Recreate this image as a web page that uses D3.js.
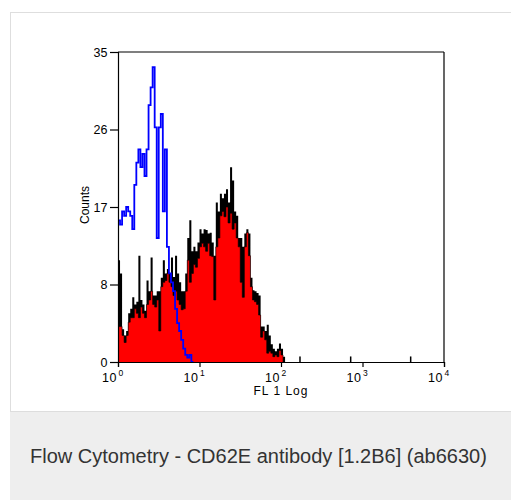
<!DOCTYPE html>
<html>
<head>
<meta charset="utf-8">
<script src="https://cdn.jsdelivr.net/npm/d3@7"></script>
<style>
  html, body { margin: 0; padding: 0; background: #ffffff; }
  svg { display: block; }
</style>
</head>
<body>
<svg id="chart" width="511" height="500"></svg>
<script>
// ---- data (channel bins of 1/40 decade, starting at 10^0) ----
const binsPerDecade = 40;
// red filled histogram (CD62E stained)
const stainedFill = [4, 4, 3, 2.2, 3, 4.5, 5, 5, 6, 5.5,
  5, 6.2, 5.5, 5, 6.5, 7, 8, 6.5, 6.2, 7,
  3.5, 8.5, 9, 9.2, 10, 9, 8.5, 7.5, 8, 7,
  6.5, 5.9, 6, 8, 11.5, 9, 10, 11, 10.7, 11.7,
  13, 13.4, 13, 12.5, 13.4, 12, 11.9, 7, 13, 14,
  16.5, 17, 16.4, 17.5, 15.7, 16.8, 15, 15.7, 14, 13,
  9, 7.3, 13, 14.6, 12, 8.5, 7, 6.8, 6.5, 5.3,
  2.8, 3.5, 2.5, 1, 1.2, 1, 0.6, 0.8, 0.6, 1.3,
  0.8, 0];
// black outline peaks of the same histogram
const stainedPeak = [11.5, 10, 3.7, 3, 3.5, 5.5, 6, 7.3, 6.5, 6.8,
  12, 7, 6.5, 5.8, 9.2, 8, 11.8, 7.5, 7.5, 8,
  8, 9.5, 11.5, 10, 10.5, 10, 11.8, 9.6, 12, 10,
  9, 8, 8, 10, 14, 16, 12.5, 13, 12.5, 13.5,
  15, 14.5, 15, 14.9, 14.5, 14.6, 13.5, 12, 18, 17,
  19, 18.5, 19, 19.5, 18, 22, 20.5, 17, 16.5, 14,
  14, 13, 14.5, 15, 14.5, 9.5, 8.1, 8, 7.8, 7.5,
  4, 4, 3.5, 4.2, 3, 2, 1.5, 1.2, 1.5, 2.1,
  1.5, 0.6];
// blue isotype control histogram
const isotype = [16, 15.5, 17, 16.5, 17.5, 17, 16.5, 15, 20, 22.5,
  24, 22, 23.5, 21, 24, 29, 31, 33.3, 26.5, 14,
  26.5, 28, 17, 24, 13, 10, 9, 8, 6, 4.4,
  3.5, 2.5, 1.5, 0.8, 0.5, 0.8, 0];
// isolated events far right (FL1 value, count)
const rareEventsFL1 = [171, 716, 3900];
const rareEventsCount = [0.4, 0.4, 0.4];

const yTickValues = [0, 8.75, 17.5, 26.25, 35];
const yTickLabels = ["0", "8", "17", "26", "35"];
const xTickValues = [1, 10, 100, 1000, 10000];
const xTickExponents = ["0", "1", "2", "3", "4"];
const xTitle = "FL 1 Log";
const yTitle = "Counts";
const caption = "Flow Cytometry - CD62E antibody [1.2B6] (ab6630)";

// ---- layout ----
const svg = d3.select("#chart");
const FONT = "'Liberation Sans', Arial, Helvetica, sans-serif";

// card
svg.append("rect").attr("x", 10.5).attr("y", 12.5).attr("width", 520).attr("height", 400)
  .attr("fill", "#ffffff").attr("stroke", "#dedede").attr("stroke-width", 1);
svg.append("rect").attr("x", 10).attr("y", 412).attr("width", 510).attr("height", 100)
  .attr("fill", "#eeeeee");
svg.append("line").attr("x1", 10).attr("x2", 511).attr("y1", 411.5).attr("y2", 411.5)
  .attr("stroke", "#dddddd");

const x = d3.scaleLog().domain([1, 10000]).range([118, 444]);
const y = d3.scaleLinear().domain([0, 35]).range([362, 52]);

const edge = i => Math.pow(10, i / binsPerDecade);
function stepPoints(arr) {
  const pts = arr.map((v, i) => [edge(i), v]);
  pts.push([edge(arr.length), arr[arr.length - 1]]);
  return pts;
}

const plot = svg.append("g");
const area = d3.area().curve(d3.curveStepAfter)
  .x(d => x(d[0])).y0(y(0)).y1(d => y(d[1]));
const line = d3.line().curve(d3.curveStepAfter)
  .x(d => x(d[0])).y(d => y(d[1]));

plot.append("path").datum(stepPoints(stainedPeak))
  .attr("d", area).attr("fill", "#000000");
plot.append("path").datum(stepPoints(stainedFill))
  .attr("d", area).attr("fill", "#ff0000");
plot.append("path").datum(stepPoints(stainedFill))
  .attr("d", line).attr("fill", "none").attr("stroke", "#000").attr("stroke-width", 0.6);

plot.append("path").datum(stepPoints(isotype))
  .attr("d", line).attr("fill", "none").attr("stroke", "#0000ff").attr("stroke-width", 1.8);

plot.selectAll("rect.rare").data(rareEventsFL1).enter().append("rect")
  .attr("class", "rare")
  .attr("x", d => x(d) - 0.75).attr("width", 1.5)
  .attr("y", (d, i) => y(rareEventsCount[i]) - 2)
  .attr("height", (d, i) => y(0) - y(rareEventsCount[i]) + 2)
  .attr("fill", "#000");

// axes
const yAxis = d3.axisLeft(y).tickValues(yTickValues)
  .tickFormat((d, i) => yTickLabels[i]).tickSize(8).tickPadding(2.5);
const gy = svg.append("g").attr("transform", "translate(118,0)").call(yAxis);
gy.select(".domain").attr("stroke", "#000").attr("stroke-width", 1.2);
gy.selectAll(".tick line").attr("stroke", "#000").attr("stroke-width", 1.2);
gy.selectAll(".tick text").attr("font-family", FONT).attr("font-size", 12.5)
  .attr("fill", "#000");

const xAxis = d3.axisBottom(x).tickValues(xTickValues).tickFormat("").tickSize(5);
const gx = svg.append("g").attr("transform", "translate(0,362)").call(xAxis);
gx.select(".domain").attr("stroke", "#000").attr("stroke-width", 1.2);
gx.selectAll(".tick line").attr("stroke", "#000").attr("stroke-width", 1.2);

// frame top/right
svg.append("line").attr("x1", x(1)).attr("x2", x(10000)).attr("y1", y(35)).attr("y2", y(35))
  .attr("stroke", "#000").attr("stroke-width", 1.2);
svg.append("line").attr("x1", x(10000)).attr("x2", x(10000)).attr("y1", y(35)).attr("y2", y(0))
  .attr("stroke", "#000").attr("stroke-width", 1.2);

// x tick labels 10^n
const xl = svg.append("g");
xTickValues.forEach((v, i) => {
  xl.append("text").attr("x", x(v) - 1).attr("y", 382)
    .attr("text-anchor", "end").attr("font-family", FONT).attr("font-size", 12.5)
    .attr("letter-spacing", 0.5).text("10");
  xl.append("text").attr("x", x(v) + 0.5).attr("y", 376)
    .attr("text-anchor", "start").attr("font-family", FONT).attr("font-size", 8.5)
    .text(xTickExponents[i]);
});

svg.append("text").attr("x", 281).attr("y", 395).attr("text-anchor", "middle")
  .attr("font-family", FONT).attr("font-size", 12).attr("letter-spacing", 1)
  .text(xTitle);
svg.append("text").attr("transform", "translate(89,205) rotate(-90)")
  .attr("text-anchor", "middle").attr("font-family", FONT).attr("font-size", 12)
  .text(yTitle);

svg.append("text").attr("x", 30).attr("y", 463).attr("font-family", FONT)
  .attr("font-size", 20).attr("fill", "#333333").text(caption);
</script>
</body>
</html>
